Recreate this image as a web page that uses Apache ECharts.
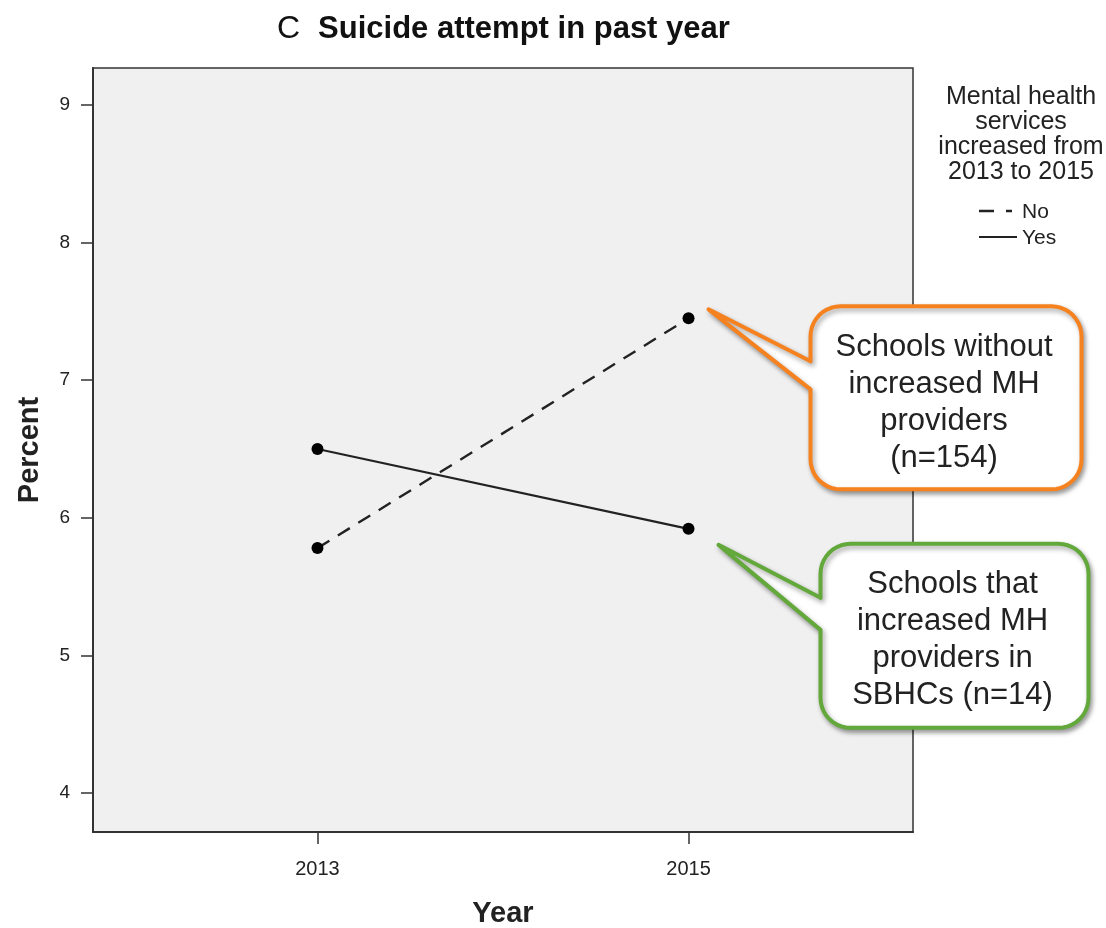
<!DOCTYPE html>
<html><head><meta charset="utf-8">
<script src="https://cdn.jsdelivr.net/npm/echarts@6/dist/echarts.min.js"></script>
<style>html,body{margin:0;padding:0;background:#fff}#c{width:1106px;height:928px}</style>
</head><body><div id="c"></div>
<script>
const years = [2013, 2015];
const noSeries = [5.78, 7.45];   // Mental health services increased: No
const yesSeries = [6.50, 5.92];  // Mental health services increased: Yes
const yTicks = [4, 5, 6, 7, 8, 9];
const xTicks = [2013, 2015];
const legendTitle = 'Mental health\nservices\nincreased from\n2013 to 2015';
const seriesNames = ['No', 'Yes'];
const callout1 = 'Schools without\nincreased MH\nproviders\n(n=154)';
const callout2 = 'Schools that\nincreased MH\nproviders in\nSBHCs (n=14)';

const FONT = 'Liberation Sans, Arial, sans-serif';
const chart = echarts.init(document.getElementById('c'));
const pair = (xs, ys) => xs.map((x, i) => [x, ys[i]]);

chart.setOption({
  animation: false,
  textStyle: {fontFamily: FONT},
  title: {
    text: '{c|C}{s|Suicide attempt in past year}',
    left: 272, top: 8,
    textStyle: {
      fontWeight: 'normal',
      rich: {
        c: {fontSize: 32, fontWeight: 'normal', fontFamily: FONT, color: '#111', padding: [0, 18, 0, 0]},
        s: {fontSize: 31, fontWeight: 'bold', fontFamily: FONT, color: '#111'}
      }
    }
  },
  grid: {left: 93, right: 193, top: 68, bottom: 96, show: true, outerBoundsMode: 'none', containLabel: false,
    backgroundColor: '#f0f0f0', borderColor: '#333', borderWidth: 1.5},
  xAxis: {
    type: 'value', min: 2011.79, max: 2016.21,
    name: 'Year', nameLocation: 'middle', nameGap: 67,
    nameTextStyle: {fontSize: 29, fontWeight: 'bold', color: '#222', fontFamily: FONT},
    axisLine: {show: true, lineStyle: {color: '#333', width: 2}},
    axisTick: {show: true, length: 12, lineStyle: {color: '#333', width: 1.5}, customValues: xTicks},
    axisLabel: {fontSize: 20, color: '#222', margin: 27, customValues: xTicks, formatter: v => String(v)},
    splitLine: {show: false}
  },
  yAxis: {
    type: 'value', min: 3.717, max: 9.269,
    name: 'Percent', nameLocation: 'middle', nameGap: 49,
    nameTextStyle: {fontSize: 29, fontWeight: 'bold', color: '#222', fontFamily: FONT},
    axisLine: {show: true, lineStyle: {color: '#333', width: 2}},
    axisTick: {show: true, length: 12, lineStyle: {color: '#333', width: 1.5}, customValues: yTicks},
    axisLabel: {fontSize: 19, color: '#222', margin: 23, customValues: yTicks, formatter: v => String(v)},
    splitLine: {show: false}
  },
  series: [
    {name: seriesNames[0], type: 'line', data: pair(years, noSeries), symbol: 'circle', symbolSize: 12,
      itemStyle: {color: '#000'}, lineStyle: {color: '#222', width: 2.4, type: [14, 10]}},
    {name: seriesNames[1], type: 'line', data: pair(years, yesSeries), symbol: 'circle', symbolSize: 12,
      itemStyle: {color: '#000'}, lineStyle: {color: '#222', width: 2.2}}
  ]
});

function roundedCallout(x0, y0, x1, y1, r, b1, b2, tip) {
  const pts = [];
  const arc = (cx, cy, a0, a1) => {
    const n = 10;
    for (let i = 0; i <= n; i++) {
      const a = a0 + (a1 - a0) * i / n;
      pts.push([cx + r * Math.cos(a), cy + r * Math.sin(a)]);
    }
  };
  const PI = Math.PI;
  arc(x0 + r, y0 + r, PI, 1.5 * PI);
  arc(x1 - r, y0 + r, 1.5 * PI, 2 * PI);
  arc(x1 - r, y1 - r, 0, 0.5 * PI);
  arc(x0 + r, y1 - r, 0.5 * PI, PI);
  pts.push([x0, b2]); pts.push(tip); pts.push([x0, b1]);
  return pts;
}

const p1 = chart.convertToPixel({gridIndex: 0}, [years[1], noSeries[1]]);
const p2 = chart.convertToPixel({gridIndex: 0}, [years[1], yesSeries[1]]);

const c1 = {x0: p1[0] + 122, y0: p1[1] - 12, x1: p1[0] + 393, y1: p1[1] + 171,
  b1: p1[1] + 43, b2: p1[1] + 71, tip: [p1[0] + 20, p1[1] - 9]};
const c2 = {x0: p2[0] + 132, y0: p2[1] + 15, x1: p2[0] + 400, y1: p2[1] + 199,
  b1: p2[1] + 69, b2: p2[1] + 101, tip: [p2[0] + 30, p2[1] + 16]};

function calloutElems(c, color, text, dy) {
  return [
    {type: 'polygon', z: 50, shape: {points: roundedCallout(c.x0, c.y0, c.x1, c.y1, 30, c.b1, c.b2, c.tip)},
      style: {fill: '#fff', stroke: color, lineWidth: 4, lineJoin: 'round',
        shadowBlur: 5, shadowOffsetX: 2, shadowOffsetY: 3, shadowColor: 'rgba(0,0,0,0.35)'}},
    {type: 'text', z: 51, style: {text: text, x: (c.x0 + c.x1) / 2 - 2, y: (c.y0 + c.y1) / 2 + dy,
      align: 'center', verticalAlign: 'middle', fontSize: 31, lineHeight: 37,
      fontFamily: FONT, fill: '#222'}}
  ];
}

const legX = 979, legTextX = 1022;
chart.setOption({
  graphic: [
    ...calloutElems(c1, '#F5821F', callout1, 5),
    ...calloutElems(c2, '#62A83A', callout2, 4),
    {type: 'text', style: {text: legendTitle, x: 1021, y: 135, align: 'center', verticalAlign: 'middle',
      fontSize: 25, lineHeight: 25, fontFamily: FONT, fill: '#222'}},
    {type: 'line', shape: {x1: legX, y1: 211, x2: 1012, y2: 211}, style: {stroke: '#222', lineWidth: 2.4, lineDash: [15, 12]}},
    {type: 'text', style: {text: seriesNames[0], x: legTextX, y: 212, align: 'left', verticalAlign: 'middle',
      fontSize: 21, fontFamily: FONT, fill: '#222'}},
    {type: 'line', shape: {x1: legX, y1: 237, x2: 1017, y2: 237}, style: {stroke: '#222', lineWidth: 2.2}},
    {type: 'text', style: {text: seriesNames[1], x: legTextX, y: 238, align: 'left', verticalAlign: 'middle',
      fontSize: 21, fontFamily: FONT, fill: '#222'}}
  ]
});
</script></body></html>
